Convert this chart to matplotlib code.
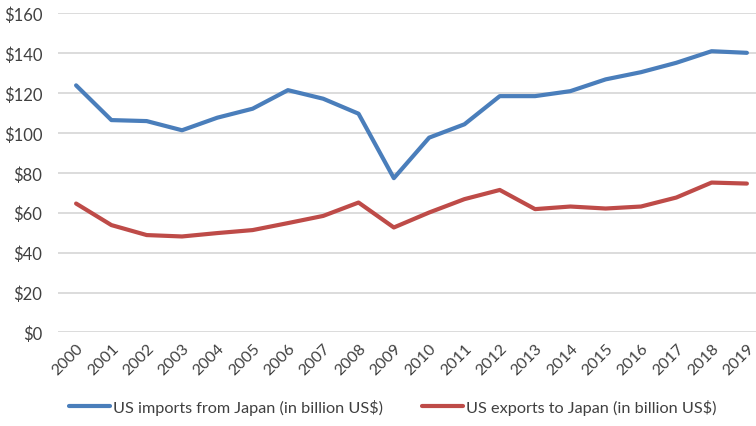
import matplotlib
matplotlib.use("Agg")
import matplotlib.pyplot as plt

years = [str(y) for y in range(2000, 2020)]
imports_from_japan = [123.8, 106.4, 105.9, 101.3, 107.6, 112.1, 121.4, 117.1, 109.6, 77.3,
                      97.6, 104.3, 118.4, 118.4, 120.9, 126.8, 130.4, 135.1, 140.9, 140.1]
exports_to_japan = [64.6, 53.8, 48.8, 48.1, 49.8, 51.3, 54.8, 58.4, 65.1, 52.6,
                    60.1, 66.8, 71.4, 61.8, 63.1, 62.1, 63.1, 67.6, 75.1, 74.6]
y_ticks = [0, 20, 40, 60, 80, 100, 120, 140, 160]

plt.rcParams['font.family'] = ['Lato', 'DejaVu Sans']

fig = plt.figure(figsize=(7.56, 4.27), dpi=100)
ax = fig.add_axes([0.0773, 0.219, 0.934, 0.748])

x = list(range(len(years)))
ax.plot(x, imports_from_japan, color='#4A7EBB', lw=3.0, solid_capstyle='round',
        solid_joinstyle='round', label='US imports from Japan (in billion US$)')
ax.plot(x, exports_to_japan, color='#BE4B48', lw=3.0, solid_capstyle='round',
        solid_joinstyle='round', label='US exports to Japan (in billion US$)')

ax.set_xlim(-0.5, len(years) - 0.5)
ax.set_ylim(0, 160)
ax.set_yticks(y_ticks)
ax.set_yticklabels([f'${v}' for v in y_ticks], fontsize=12, color='#404040')
ax.set_xticks(x)
ax.set_xticklabels(years, rotation=45, ha='right', rotation_mode='anchor',
                   fontsize=11.5, color='#404040')
ax.tick_params(axis='both', length=0)
ax.tick_params(axis='y', pad=11.5)
ax.tick_params(axis='x', pad=6)
ax.grid(axis='y', color='#D9D9D9', lw=1.3)
ax.set_axisbelow(True)
for s in ax.spines.values():
    s.set_visible(False)

fig.legend(loc='center', bbox_to_anchor=(0.52, 0.045), ncol=2, frameon=False,
           fontsize=11.7, handlelength=2.5, handletextpad=0.2, columnspacing=2.4,
           labelcolor='#404040')

fig.savefig('out.png', dpi=100)
